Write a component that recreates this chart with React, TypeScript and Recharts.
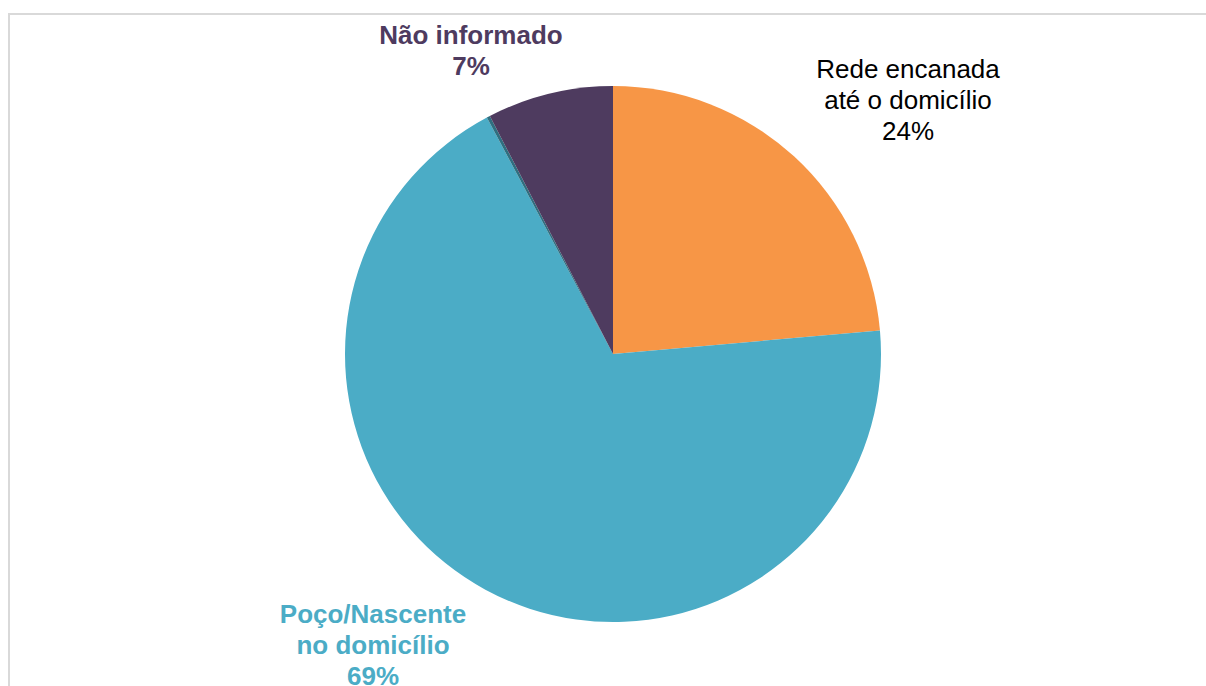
import React from 'react';
import { PieChart, Pie, Cell } from 'recharts';

// fonte de abastecimento de água (percentuais)
const categories = ['Rede encanada até o domicílio', 'Poço/Nascente no domicílio', 'Outros', 'Não informado'];
const values = [23.6, 68.6, 0.2, 7.6];
const labelLines = [
  ['Rede encanada', 'até o domicílio', '24%'],
  ['Poço/Nascente', 'no domicílio', '69%'],
  [],
  ['Não informado', '7%'],
];

const colors = ['#F79646', '#4BACC6', '#2F6F80', '#4E3B5F'];
const labelColors = ['#000000', '#4BACC6', '#2F6F80', '#4E3B5F'];
const labelBold = [false, true, false, true];
// label block centre, relative to pie centre
const labelOffset: [number, number][] = [
  [295, -254],
  [-240, 291],
  [0, 0],
  [-142, -304],
];

const data = categories.map((name, i) => ({ name, value: values[i] }));

const LINE_H = 31;

const renderLabel = (props: any) => {
  const { cx, cy, index } = props;
  const lines = labelLines[index];
  if (!lines || lines.length === 0) return null;
  const [dx, dy] = labelOffset[index];
  const x = cx + dx;
  const top = cy + dy - ((lines.length - 1) * LINE_H) / 2;
  return (
    <text
      x={x}
      y={top}
      textAnchor="middle"
      fill={labelColors[index]}
      fontSize={26}
      fontWeight={labelBold[index] ? 'bold' : 'normal'}
      fontFamily="'Liberation Sans', Arial, sans-serif"
    >
      {lines.map((l, i) => (
        <tspan key={i} x={x} y={top + i * LINE_H} dominantBaseline="central">
          {l}
        </tspan>
      ))}
    </text>
  );
};

const App: React.FC = () => {
  return (
    <div style={{ position: 'absolute', left: 0, top: 0, width: 1206, height: 686, overflow: 'hidden', background: '#fff' }}>
      <div
        style={{
          position: 'absolute',
          left: 8,
          top: 13,
          width: 1210,
          height: 700,
          borderTop: '2px solid #D9D9D9',
          borderLeft: '2px solid #D9D9D9',
          boxSizing: 'border-box',
        }}
      />
      <div style={{ position: 'absolute', left: 0, top: 0 }}>
        <PieChart width={1206} height={686} margin={{ top: 0, right: 0, bottom: 0, left: 0 }}>
          <Pie
            data={data}
            dataKey="value"
            nameKey="name"
            cx={613}
            cy={354}
            outerRadius={268}
            startAngle={90}
            endAngle={-270}
            stroke="none"
            labelLine={false}
            label={renderLabel}
            isAnimationActive={false}
          >
            {data.map((d, i) => (
              <Cell key={d.name} fill={colors[i]} stroke="none" />
            ))}
          </Pie>
        </PieChart>
      </div>
    </div>
  );
};

export default App;
